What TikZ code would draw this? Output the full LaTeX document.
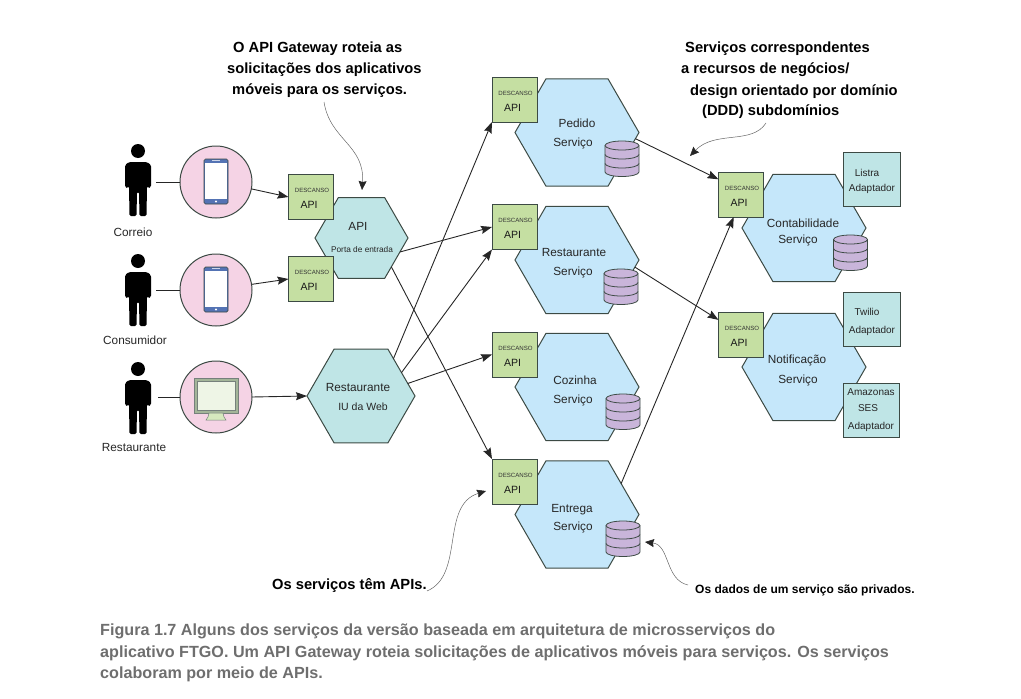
\documentclass[tikz,border=0pt]{standalone}
\usepackage{fontspec}
\setmainfont{Liberation Sans}
\usetikzlibrary{arrows.meta,shapes.geometric}
\definecolor{edgeC}{HTML}{3C4A44}
\definecolor{servC}{HTML}{C5E7FA}
\definecolor{gateC}{HTML}{BFE5E6}
\definecolor{restC}{HTML}{C5DFA2}
\definecolor{dbC}{HTML}{C9B5DA}
\definecolor{pinkC}{HTML}{F5D3E5}
\definecolor{phoneC}{HTML}{5473B4}
\definecolor{capC}{HTML}{6E6E6E}
\definecolor{glassC}{HTML}{EEF5E6}
\definecolor{frameC}{HTML}{A3B599}
\newcommand{\fs}[1]{\fontsize{#1}{#1}\selectfont}
\tikzset{
  hexa/.style={draw=edgeC,line width=1pt,regular polygon,regular polygon sides=6,
    shape border rotate=0,inner sep=0pt,outer sep=0pt,minimum size=#1},
  service/.style={hexa=124pt,fill=servC},
  restbox/.style={draw=edgeC,line width=1pt,fill=restC,minimum size=45pt,inner sep=0pt,outer sep=0pt},
  adapter/.style={draw=edgeC,line width=1pt,fill=gateC,inner sep=0pt,outer sep=0pt},
  userC/.style={draw=edgeC,line width=1pt,fill=pinkC,circle,minimum size=72pt,inner sep=0pt,outer sep=0pt},
  txt/.style={inner sep=0pt,text=black!85,font=\fs{11.8}},
  small/.style={inner sep=0pt,text=black!85,font=\fs{10}},
  head/.style={inner sep=0pt,yshift=-1.5pt,anchor=west,font=\bfseries\fs{14.7}},
  captxt/.style={inner sep=0pt,yshift=-1.5pt,anchor=west,text=capC,font=\bfseries\fs{16.15}},
  flow/.style={draw=black!85,line width=0.9pt,-{Stealth[length=11pt,width=8pt,inset=1.5pt]}},
  note/.style={draw=black!60,line width=0.5pt,-{Stealth[length=9pt,width=8pt,inset=1pt,black!85]}},
  person/.pic={
    \fill[black] (0,0) circle (7pt);
    \fill[black,rounded corners=1.5pt] (-9,11) -- (9,11) -- (13,14) -- (13,36) -- (10.5,37.5) -- (9,35)
      -- (8.5,65) -- (1.5,65) -- (1,41) -- (-1,41) -- (-1.5,65) -- (-8.5,65) -- (-9,35)
      -- (-10.5,37.5) -- (-13,36) -- (-13,14) -- cycle;
  },
  phone/.pic={
    \filldraw[draw=edgeC,fill=phoneC,rounded corners=1.5pt,line width=0.7pt] (-12,-23) rectangle (12,22);
    \fill[white] (-11,-19.5) rectangle (11,17);
    \fill[white] (0,19.5) circle (1.2pt);
    \draw[white!70!phoneC,line width=0.7pt] (-4,-21.2) -- (4,-21.2);
  },
  screen/.pic={
    \filldraw[draw=edgeC!70,fill=frameC,line width=0.7pt] (-22,-19) rectangle (22,16);
    \filldraw[draw=edgeC!70,fill=glassC,line width=0.5pt] (-19,-16) rectangle (19,13);
    \filldraw[draw=edgeC!70,fill=restC!70!white,line width=0.5pt] (-7,16) -- (7,16) -- (8,20) -- (10,23) -- (-10,23) -- (-8,20) -- cycle;
  },
  dbase/.pic={
    \filldraw[draw=edgeC,fill=dbC,line width=0.8pt] (-17,4.5) -- (-17,31)
      arc[start angle=180,end angle=360,x radius=17pt,y radius=4.5pt] -- (17,4.5)
      arc[start angle=0,end angle=180,x radius=17pt,y radius=4.5pt] -- cycle;
    \draw[edgeC,line width=0.8pt] (-17,4.5) arc[start angle=180,end angle=360,x radius=17pt,y radius=4.5pt];
    \draw[edgeC,line width=0.8pt] (-17,13.5) arc[start angle=180,end angle=360,x radius=17pt,y radius=4.5pt];
    \draw[edgeC,line width=0.8pt] (-17,22.5) arc[start angle=180,end angle=360,x radius=17pt,y radius=4.5pt];
  }
}
\begin{document}
\begin{tikzpicture}[x=1pt,y=-1pt]
  \useasboundingbox (0,0) rectangle (1021,699);

  % users
  \pic at (138,151) {person};
  \pic at (138,261) {person};
  \pic at (138,369) {person};
  \node[small,font=\fs{11.8}] (lblMail) at (133,232) {Correio};
  \node[small,font=\fs{11.8}] (lblCons) at (135,340) {Consumidor};
  \node[small,font=\fs{11.8}] (lblRest) at (134,447) {Restaurante};
  \node[userC] (cellA) at (216,182) {};
  \node[userC] (cellB) at (216,290) {};
  \node[userC] (desk) at (216,397) {};
  \pic at (216,182) {phone};
  \pic at (216,290) {phone};
  \pic at (216,397) {screen};
  \coordinate (manA) at (156,182);
  \coordinate (manB) at (156,290);
  \coordinate (manC) at (158,397);
  \draw[draw=black!85,line width=0.9pt] (manA) -- (cellA.west);
  \draw[draw=black!85,line width=0.9pt] (manB) -- (cellB.west);
  \draw[draw=black!85,line width=0.9pt] (manC) -- (desk.west);

  % hexagons
  \node[hexa=93pt,fill=gateC] (gate) at (361.5,238) {};
  \node[hexa=108pt,fill=gateC] (webui) at (361,396) {};
  \node[service] (svcPed) at (577,132.5) {};
  \node[service] (svcRes) at (577,260) {};
  \node[service] (svcCoz) at (577,387) {};
  \node[service] (svcEnt) at (577,514.5) {};
  \node[service] (svcCon) at (804,228) {};
  \node[service] (svcNot) at (804,367) {};

  % adapters
  \node[adapter,minimum width=57pt,minimum height=54pt] (adLis) at (871.5,179) {};
  \node[adapter,minimum width=57pt,minimum height=54pt] (adTwi) at (871.5,319) {};
  \node[adapter,minimum width=56pt,minimum height=54pt] (adAma) at (871,410) {};

  % api boxes
  \foreach \nm/\cx/\cy in {apiGA/311/197, apiGB/311/279, apiPed/514.5/99.5, apiRes/514.5/227,
      apiCoz/514.5/354.5, apiEnt/514.5/481.5, apiCon/741/194.5, apiNot/741/334.5} {
    \node[restbox] (\nm) at (\cx,\cy) {};
    \node[inner sep=0pt,text=black!80,font=\fs{6.1}] (\nm d) at (\cx+1,\cy-6.5) {DESCANSO};
    \node[inner sep=0pt,text=black!90,font=\fs{10.5}] (\nm a) at (\cx-2,\cy+8) {API};
  }

  % databases
  \pic at (622,141) {dbase};
  \pic at (621,269) {dbase};
  \pic at (623,394) {dbase};
  \pic at (623,521) {dbase};
  \pic at (850.5,235) {dbase};

  % connectors
  \draw[flow] (cellA.-11) -- (apiGA.west);
  \draw[flow] (cellB.9.5) -- (apiGB.west);
  \draw[flow] (desk.east) -- (webui.180);
  \draw[flow] (gate.-20) -- (apiRes.west);
  \draw[flow] (gate.-44) -- (apiEnt.north west);
  \draw[flow] (webui.49) -- (apiPed.south west);
  \draw[flow] (webui.30) -- (apiRes.south west);
  \draw[flow] (webui.15.5) -- (apiCoz.west);
  \draw[flow] (svcPed.-6) -- (apiCon.146);
  \draw[flow] (svcRes.-7) -- (apiNot.147);
  \draw[flow] (svcEnt.35) -- (apiCon.-108);

  % labels
  \node[txt] (tGate) at (358,226) {API};
  \node[small,font=\fs{8.3}] (tGateB) at (362,250) {Porta de entrada};
  \node[txt] (tWeb) at (358,387) {Restaurante};
  \node[small,font=\fs{10.5}] (tWebB) at (363,407) {IU da Web};
  \node[txt] (tPed) at (577,123) {Pedido};
  \node[txt] (tPedB) at (573,143) {Serviço};
  \node[txt] (tRes) at (574,252) {Restaurante};
  \node[txt] (tResB) at (573,272) {Serviço};
  \node[txt] (tCoz) at (575,380) {Cozinha};
  \node[txt] (tCozB) at (573,400) {Serviço};
  \node[txt] (tEnt) at (572,510) {Entrega};
  \node[txt] (tEntB) at (573,527) {Serviço};
  \node[txt] (tCon) at (803,223) {Contabilidade};
  \node[txt] (tConB) at (798,240) {Serviço};
  \node[txt] (tNot) at (797,360) {Notificação};
  \node[txt] (tNotB) at (798,380) {Serviço};
  \node[small] (tLis) at (867,173) {Listra};
  \node[small] (tLisB) at (872,189) {Adaptador};
  \node[small] (tTwi) at (867,312) {Twilio};
  \node[small] (tTwiB) at (872,331) {Adaptador};
  \node[small] (tAma) at (871,392) {Amazonas};
  \node[small] (tAmaB) at (868,408) {SES};
  \node[small] (tAmaC) at (871,427) {Adaptador};

  % notes
  \node[head] (nGateA) at (233,47) {O API Gateway roteia as};
  \node[head] (nGateB) at (227,68) {solicitações dos aplicativos};
  \node[head] (nGateC) at (232,89) {móveis para os serviços.};
  \node[head] (nDomA) at (685,47) {Serviços correspondentes};
  \node[head] (nDomB) at (681,68) {a recursos de negócios/};
  \node[head] (nDomC) at (690,90) {design orientado por domínio};
  \node[head] (nDomD) at (702,110) {(DDD) subdomínios};
  \node[head] (nApis) at (272,584) {Os serviços têm APIs.};
  \node[head,font=\bfseries\fs{12}] (nData) at (695,589) {Os dados de um serviço são privados.};
  \coordinate (aGate) at (324,102);
  \coordinate (bGate) at (362,190);
  \coordinate (aDom) at (766,123);
  \coordinate (bDom) at (690,156);
  \coordinate (aData) at (688,585);
  \coordinate (bData) at (645,542);
  \coordinate (aApis) at (427,591);
  \coordinate (bApis) at (486,491);
  \draw[note] (aGate) .. controls (330,140) and (365,145) .. (bGate);
  \draw[note] (aDom) .. controls (752,145) and (715,130) .. (bDom);
  \draw[note] (aData) .. controls (665,580) and (670,545) .. (bData);
  \draw[note] (aApis) .. controls (465,575) and (440,505) .. (bApis);

  % caption
  \node[captxt] (capA) at (100,630) {Figura 1.7 Alguns dos serviços da versão baseada em arquitetura de microsserviços do};
  \node[captxt] (capB) at (100,652) {aplicativo FTGO. Um API Gateway roteia solicitações de aplicativos móveis para serviços. Os serviços};
  \node[captxt] (capC) at (100,673) {colaboram por meio de APIs.};
\end{tikzpicture}
\end{document}
